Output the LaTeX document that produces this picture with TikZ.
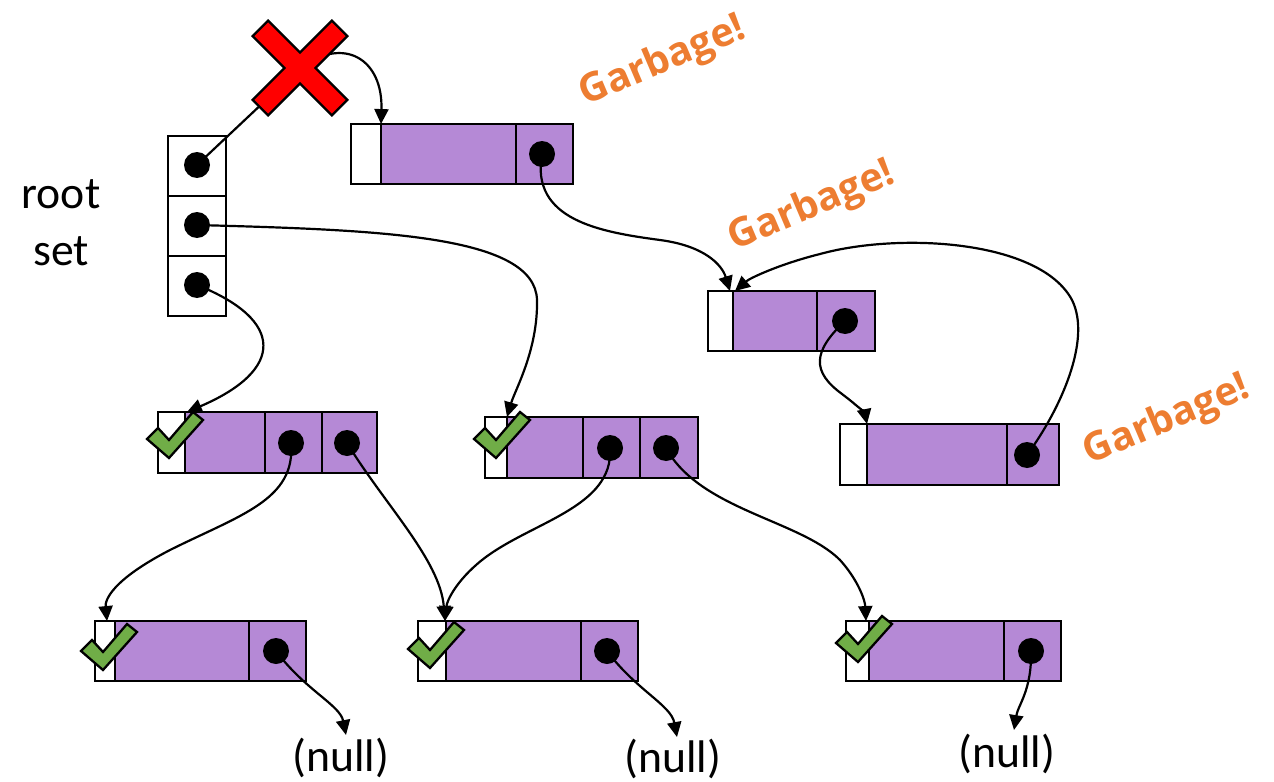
\documentclass[tikz,border=0pt]{standalone}
\usepackage{fontspec}
\setmainfont{Carlito}
\newfontfamily\notefont{Open Sans}
\usetikzlibrary{arrows.meta}
\definecolor{objpurple}{RGB}{181,137,214}
\definecolor{garbageorange}{RGB}{237,125,49}
\definecolor{tickgreen}{RGB}{112,173,71}
\definecolor{crossred}{RGB}{255,0,0}
\tikzset{
  hdr/.style={draw=black, line width=1.6pt, fill=white},
  body/.style={draw=black, line width=1.6pt, fill=objpurple},
  dot/.style={circle, fill=black, inner sep=0pt, minimum size=0.52cm},
  ptr/.style={draw=black, line width=1.25pt, -{Triangle[length=8.5pt,width=8pt]}},
  tickmark/.style={draw=black, line width=1.3pt, fill=tickgreen, line join=miter},
  garbage/.style={text=garbageorange, font=\notefont\fontsize{22.5}{26}\selectfont\bfseries, rotate=23},
  label/.style={font=\fontsize{26}{30}\selectfont, anchor=base}
}
% green check mark, given by its lower vertex
\newcommand\tickat[2]{\draw[tickmark] (#1,#2) -- ++(-22,-19) -- ++(11,-11) -- ++(11,12) -- ++(24,-28) -- ++(10,8) -- cycle;}
\begin{document}
\begin{tikzpicture}[x=0.02cm, y=-0.02cm]
\useasboundingbox (0,0) rectangle (1274,781);

% ---- root set ----
\draw[hdr] (168,136) rectangle (226,196);
\draw[hdr] (168,196) rectangle (226,256);
\draw[hdr] (168,256) rectangle (226,316);
\node[dot] (r1) at (197,165) {};
\node[dot] (r2) at (197,225) {};
\node[dot] (r3) at (197,285) {};
\node[label] (rootlbl) at (61,208) {root};
\node[label] (setlbl) at (61,265) {set};

% ---- unreachable objects ----
\draw[hdr] (351,124) rectangle (381,184);
\draw[body] (381,124) rectangle (516,184);
\draw[body] (516,124) rectangle (573,184);
\node[dot] (a1) at (542,154) {};
\coordinate (ain) at (381,124);

\draw[hdr] (708,291) rectangle (733,351);
\draw[body] (733,291) rectangle (817,351);
\draw[body] (817,291) rectangle (875,351);
\node[dot] (b1) at (845,321) {};
\coordinate (bin) at (730,291);
\coordinate (bin2) at (735,291);

\draw[hdr] (840,424) rectangle (867,485);
\draw[body] (867,424) rectangle (1007,485);
\draw[body] (1007,424) rectangle (1059,485);
\node[dot] (c1) at (1027,455) {};
\coordinate (cin) at (867,424);

% ---- reachable objects, middle row ----
\draw[hdr] (158,412) rectangle (185,473);
\draw[body] (185,412) rectangle (265,473);
\draw[body] (265,412) rectangle (322,473);
\draw[body] (322,412) rectangle (377,473);
\node[dot] (m1a) at (291,443) {};
\node[dot] (m1b) at (347,443) {};
\coordinate (m1in) at (187,412);

\draw[hdr] (485,417) rectangle (507,478);
\draw[body] (507,417) rectangle (583,478);
\draw[body] (583,417) rectangle (640,478);
\draw[body] (640,417) rectangle (698,478);
\node[dot] (m2a) at (610,448) {};
\node[dot] (m2b) at (666,448) {};
\coordinate (m2in) at (507,417);

% ---- reachable objects, bottom row ----
\draw[hdr] (95,621) rectangle (115,681);
\draw[body] (115,621) rectangle (249,681);
\draw[body] (249,621) rectangle (306,681);
\node[dot] (n1) at (276,651) {};
\coordinate (n1in) at (107,621);

\draw[hdr] (418,621) rectangle (446,681);
\draw[body] (446,621) rectangle (581,681);
\draw[body] (581,621) rectangle (638,681);
\node[dot] (n2) at (607,651) {};
\coordinate (n2in) at (445,621);

\draw[hdr] (846,621) rectangle (869,681);
\draw[body] (869,621) rectangle (1004,681);
\draw[body] (1004,621) rectangle (1061,681);
\node[dot] (n3) at (1031,651) {};
\coordinate (n3in) at (866,621);

% ---- null labels ----
\node[label] (null1) at (341,771) {(null)};
\node[label] (null2) at (673,772) {(null)};
\node[label] (null3) at (1007,767) {(null)};
\coordinate (z1) at (346,735);
\coordinate (z2) at (677,737);
\coordinate (z3) at (1014,730);

% ---- pointers ----
\draw[ptr] (r1.center) -- (300,68) .. controls (345,35) and (383,60) .. (ain);
\draw[ptr] (r2.center) .. controls (380,230) and (535,235) .. (537,300)
  .. controls (538,350) and (515,390) .. (m2in);
\draw[ptr] (r3.center) .. controls (285,320) and (285,370) .. (m1in);
\draw[ptr] (a1.center) .. controls (530,220) and (600,232) .. (660,240)
  .. controls (705,246) and (722,265) .. (bin);
\draw[ptr] (b1.center) .. controls (812,352) and (812,372) .. (842,394)
  .. controls (858,406) and (865,414) .. (cin);
\draw[ptr] (c1.center) .. controls (1060,410) and (1092,340) .. (1072,300)
  .. controls (1040,240) and (900,232) .. (820,254)
  .. controls (780,264) and (750,278) .. (bin2);
\draw[ptr] (m1a.center) .. controls (296,500) and (240,515) .. (170,550)
  .. controls (112,580) and (105,600) .. (n1in);
\draw[ptr] (m1b.center) .. controls (385,505) and (440,560) .. (n2in);
\draw[ptr] (m2a.center) .. controls (614,508) and (530,522) .. (482,560)
  .. controls (457,580) and (447,600) .. (n2in);
\draw[ptr] (m2b.center) .. controls (700,510) and (800,520) .. (840,560)
  .. controls (858,580) and (865,600) .. (n3in);
\draw[ptr] (n1.center) .. controls (305,690) and (340,705) .. (z1);
\draw[ptr] (n2.center) .. controls (636,690) and (671,705) .. (z2);
\draw[ptr] (n3.center) .. controls (1032,690) and (1018,705) .. (z3);

% ---- marks ----
\begin{scope}[shift={(300,68)}, rotate=45]
  \draw[black, line width=1.3pt, fill=crossred, line join=miter]
    (11,56) -- (11,11) -- (56,11) -- (56,-11) -- (11,-11) -- (11,-56)
    -- (-11,-56) -- (-11,-11) -- (-56,-11) -- (-56,11) -- (-11,11) -- (-11,56) -- cycle;
\end{scope}
\tickat{169}{458}
\tickat{496}{458}
\tickat{103}{670}
\tickat{430}{668}
\tickat{858}{662}

% ---- garbage notes ----
\node[garbage] (g1) at (663,62) {Garbage!};
\node[garbage] (g2) at (812,207) {Garbage!};
\node[garbage] (g3) at (1167,421) {Garbage!};
\end{tikzpicture}
\end{document}
